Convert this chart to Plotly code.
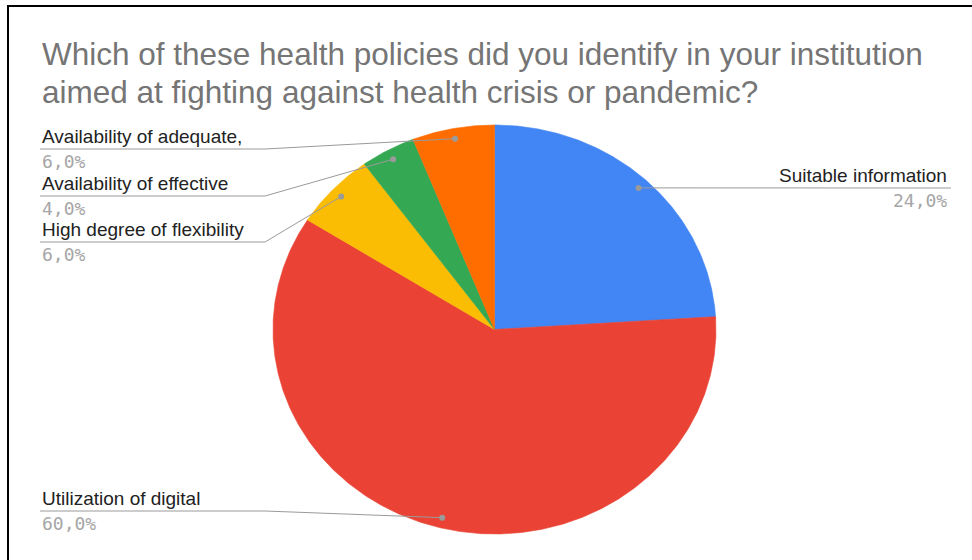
import numpy as np
import plotly.graph_objects as go

# ---- data -------------------------------------------------------------
categories = [
    "Suitable information",
    "Utilization of digital",
    "High degree of flexibility",
    "Availability of effective",
    "Availability of adequate,",
]
shares = [24.0, 60.0, 6.0, 4.0, 6.0]
colors = ["#4285F4", "#EA4335", "#FBBC04", "#34A853", "#FF6D01"]
title_lines = [
    "Which of these health policies did you identify in your institution",
    "aimed at fighting against health crisis or pandemic?",
]

# ---- layout constants (pixel space) -----------------------------------
W, H = 972, 560
CX, CY, RX, RY = 494.5, 329.5, 221.5, 204.5
DOT_R = 0.95
LINE_COLOR = "#9a9a9a"
LABEL_FONT = "Liberation Sans"
VALUE_FONT = "DejaVu Sans Mono"
TITLE_FONT = "Liberation Sans"

# label placement: side, text x, leader-line y
label_layout = {
    "Suitable information": ("right", 949, 188),
    "Utilization of digital": ("left", 40, 511),
    "High degree of flexibility": ("left", 40, 242),
    "Availability of effective": ("left", 40, 196),
    "Availability of adequate,": ("left", 40, 149),
}
LEFT_ELBOW_X = 265
RIGHT_END_X = 951


def ellipse_point(frac, r=1.0):
    """Point on the (stretched) pie for a clockwise fraction from 12 o'clock."""
    t = 2 * np.pi * frac
    return CX + RX * r * np.sin(t), CY - RY * r * np.cos(t)


fig = go.Figure()

total = sum(shares)
start = 0.0
dots = {}
for cat, val, col in zip(categories, shares, colors):
    f0 = start / total
    f1 = (start + val) / total
    fr = np.linspace(f0, f1, max(int(val * 8), 12))
    xs, ys = ellipse_point(fr)
    px = np.concatenate([[CX], xs, [CX]])
    py = np.concatenate([[CY], ys, [CY]])
    fig.add_trace(go.Scatter(
        x=px, y=py, mode="lines", fill="toself", fillcolor=col,
        line=dict(color=col, width=0.6), hoverinfo="text",
        text=f"{cat}: {val:.1f}%", showlegend=False,
    ))
    dots[cat] = ellipse_point((f0 + f1) / 2, DOT_R)
    start += val

# leader lines, dots and labels
for cat, val in zip(categories, shares):
    side, tx, ly = label_layout[cat]
    dx, dy = dots[cat]
    if side == "left":
        lx = [tx, LEFT_ELBOW_X, dx]
        lyy = [ly, ly, dy]
        anchor = "left"
    else:
        lx = [dx, RIGHT_END_X]
        lyy = [dy, ly]
        anchor = "right"
    fig.add_trace(go.Scatter(
        x=lx, y=lyy, mode="lines", line=dict(color=LINE_COLOR, width=1),
        hoverinfo="skip", showlegend=False,
    ))
    fig.add_trace(go.Scatter(
        x=[dx], y=[dy], mode="markers",
        marker=dict(color=LINE_COLOR, size=6), hoverinfo="skip", showlegend=False,
    ))
    fig.add_annotation(
        x=tx, y=ly - 13, xref="x", yref="y", text=cat, showarrow=False,
        xanchor=anchor, yanchor="middle",
        font=dict(family=LABEL_FONT, size=19, color="#222222"),
    )
    fig.add_annotation(
        x=tx, y=ly + 12, xref="x", yref="y",
        text=f"{val:.1f}".replace(".", ",") + "%", showarrow=False,
        xanchor=anchor, yanchor="middle",
        font=dict(family=VALUE_FONT, size=18, color="#a6a6a6"),
    )

# title
for i, line in enumerate(title_lines):
    fig.add_annotation(
        x=40, y=54 + i * 38, xref="x", yref="y", text=line, showarrow=False,
        xanchor="left", yanchor="middle",
        font=dict(family=TITLE_FONT, size=31.5, color="#757575"),
    )

# frame (top and left edges)
fig.add_shape(type="path", path=f"M 8 {H} L 8 6 L {W} 6",
              xref="x", yref="y", line=dict(color="black", width=2))

fig.update_layout(
    width=W, height=H, margin=dict(l=0, r=0, t=0, b=0),
    paper_bgcolor="white", plot_bgcolor="white",
    xaxis=dict(range=[0, W], visible=False, fixedrange=True),
    yaxis=dict(range=[H, 0], visible=False, fixedrange=True),
    showlegend=False,
)

fig.write_html("out.html")
